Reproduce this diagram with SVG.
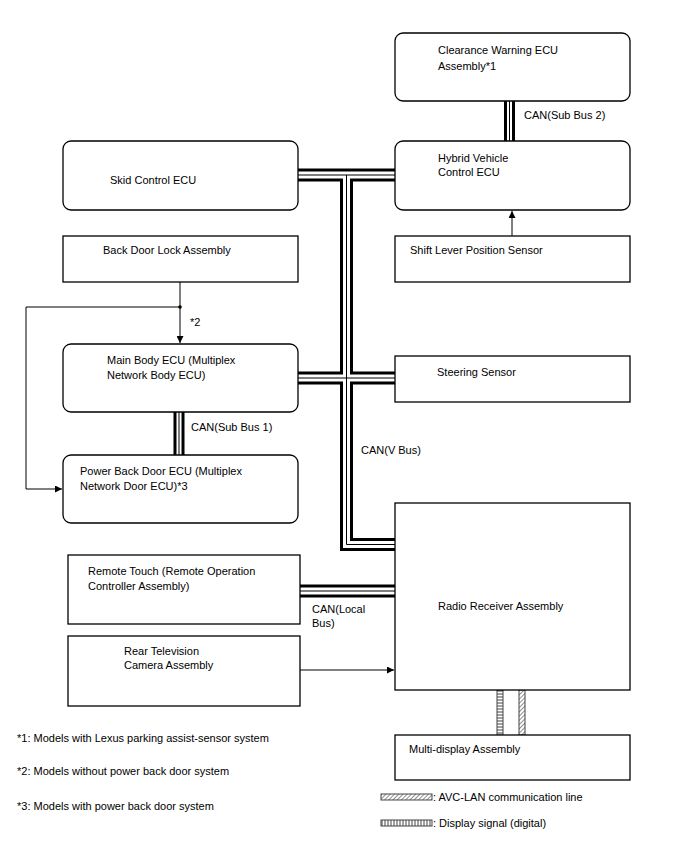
<svg xmlns="http://www.w3.org/2000/svg" width="688" height="852" viewBox="0 0 688 852">
<style>
.box{fill:#fff;stroke:#000;stroke-width:1.3}
text{font-family:"Liberation Sans",Arial,sans-serif;font-size:11px;fill:#000}
.bk{fill:none;stroke:#000;stroke-linejoin:miter}
.wh{fill:none;stroke:#fff;stroke-linejoin:miter}
.cl{fill:none;stroke:#000;stroke-width:1}
.ln{fill:none;stroke:#000;stroke-width:1}
</style>
<defs>
<marker id="arr" viewBox="0 0 10 10" refX="10" refY="5" markerWidth="8" markerHeight="7" markerUnits="userSpaceOnUse" orient="auto">
<path d="M0,0L10,5L0,10z" fill="#000"/>
</marker>
<pattern id="avc" patternUnits="userSpaceOnUse" width="3" height="3" patternTransform="rotate(45)">
<rect width="3" height="3" fill="#fff"/>
<line x1="0" y1="0" x2="0" y2="3" stroke="#444" stroke-width="1.2"/>
</pattern>
<pattern id="dsv" patternUnits="userSpaceOnUse" width="6" height="3">
<rect width="6" height="3" fill="#fff"/>
<line x1="0" y1="1" x2="6" y2="1" stroke="#444" stroke-width="1"/>
</pattern>
<pattern id="dsh" patternUnits="userSpaceOnUse" width="3" height="6">
<rect width="3" height="6" fill="#fff"/>
<line x1="1" y1="0" x2="1" y2="6" stroke="#444" stroke-width="1"/>
</pattern>
</defs>
<rect width="688" height="852" fill="#fff"/>

<g id="connectors">
<g class="bk" stroke-width="13">
<path d="M298,175H395M346.5,175V544.5H395M298,378H395"/>
<path d="M300,591H395"/>
</g>
<g class="bk" stroke-width="11">
<path d="M509.5,101V141M179,412V455"/>
</g>
<g class="wh" stroke-width="7">
<path d="M298,175H395M346.5,175V544.5H395M298,378H395"/>
<path d="M300,591H395"/>
</g>
<g class="wh" stroke-width="5">
<path d="M509.5,101V141M179,412V455"/>
</g>
<g class="cl">
<path d="M298,175H395M346.5,175V544.5H395M298,378H395"/>
<path d="M300,591H395"/>
<path d="M509.5,101V141M179,412V455"/>
</g>
<path class="ln" d="M512,236V211" marker-end="url(#arr)"/>
<path class="ln" d="M180,282V343" marker-end="url(#arr)"/>
<path class="ln" d="M180,307H26V489H62" marker-end="url(#arr)"/>
<circle cx="180" cy="307" r="1.8" fill="#000"/>
<path class="ln" d="M300,670H394" marker-end="url(#arr)"/>
<rect x="497" y="690" width="6" height="45" fill="url(#dsv)" stroke="#444" stroke-width="1"/>
<rect x="519" y="690" width="6" height="45" fill="url(#avc)" stroke="#444" stroke-width="1"/>
</g>

<g id="n-clearance"><rect class="box" x="395" y="33" width="235" height="68" rx="8"/>
<text x="438" y="54">Clearance Warning ECU</text><text x="438" y="70">Assembly*1</text></g>
<g id="n-hybrid"><rect class="box" x="395" y="141" width="235" height="69" rx="8"/>
<text x="438" y="162">Hybrid Vehicle</text><text x="438" y="176">Control ECU</text></g>
<g id="n-skid"><rect class="box" x="63" y="141" width="235" height="69" rx="8"/>
<text x="110" y="184">Skid Control ECU</text></g>
<g id="n-backdoorlock"><rect class="box" x="63" y="236" width="235" height="46"/>
<text x="103" y="254">Back Door Lock Assembly</text></g>
<g id="n-shift"><rect class="box" x="395" y="236" width="235" height="46"/>
<text x="410" y="254">Shift Lever Position Sensor</text></g>
<g id="n-mainbody"><rect class="box" x="63" y="344" width="235" height="68" rx="8"/>
<text x="107" y="364">Main Body ECU (Multiplex</text><text x="107" y="379">Network Body ECU)</text></g>
<g id="n-steering"><rect class="box" x="395" y="356" width="235" height="46"/>
<text x="437" y="376">Steering Sensor</text></g>
<g id="n-powerbackdoor"><rect class="box" x="63" y="455" width="235" height="68" rx="8"/>
<text x="80" y="475">Power Back Door ECU (Multiplex</text><text x="80" y="490">Network Door ECU)*3</text></g>
<g id="n-radio"><rect class="box" x="395" y="503" width="235" height="187"/>
<text x="438" y="610">Radio Receiver Assembly</text></g>
<g id="n-remotetouch"><rect class="box" x="68" y="555" width="232" height="69"/>
<text x="88" y="575">Remote Touch (Remote Operation</text><text x="88" y="590">Controller Assembly)</text></g>
<g id="n-camera"><rect class="box" x="68" y="636" width="232" height="70"/>
<text x="124" y="655">Rear Television</text><text x="124" y="669">Camera Assembly</text></g>
<g id="n-multidisplay"><rect class="box" x="395" y="735" width="235" height="45"/>
<text x="409" y="753">Multi-display Assembly</text></g>

<g id="labels">
<text x="524" y="119">CAN(Sub Bus 2)</text>
<text x="190" y="326">*2</text>
<text x="191" y="431">CAN(Sub Bus 1)</text>
<text x="361" y="454">CAN(V Bus)</text>
<text x="312" y="613">CAN(Local</text>
<text x="312" y="627">Bus)</text>
<text x="17" y="742">*1: Models with Lexus parking assist-sensor system</text>
<text x="17" y="775">*2: Models without power back door system</text>
<text x="17" y="810">*3: Models with power back door system</text>
</g>
<g id="legend">
<rect x="381" y="794" width="51" height="6" fill="url(#avc)" stroke="#444" stroke-width="1"/>
<text x="433" y="801">: AVC-LAN communication line</text>
<rect x="381" y="820" width="51" height="6" fill="url(#dsh)" stroke="#444" stroke-width="1"/>
<text x="433" y="827">: Display signal (digital)</text>
</g>
</svg>
